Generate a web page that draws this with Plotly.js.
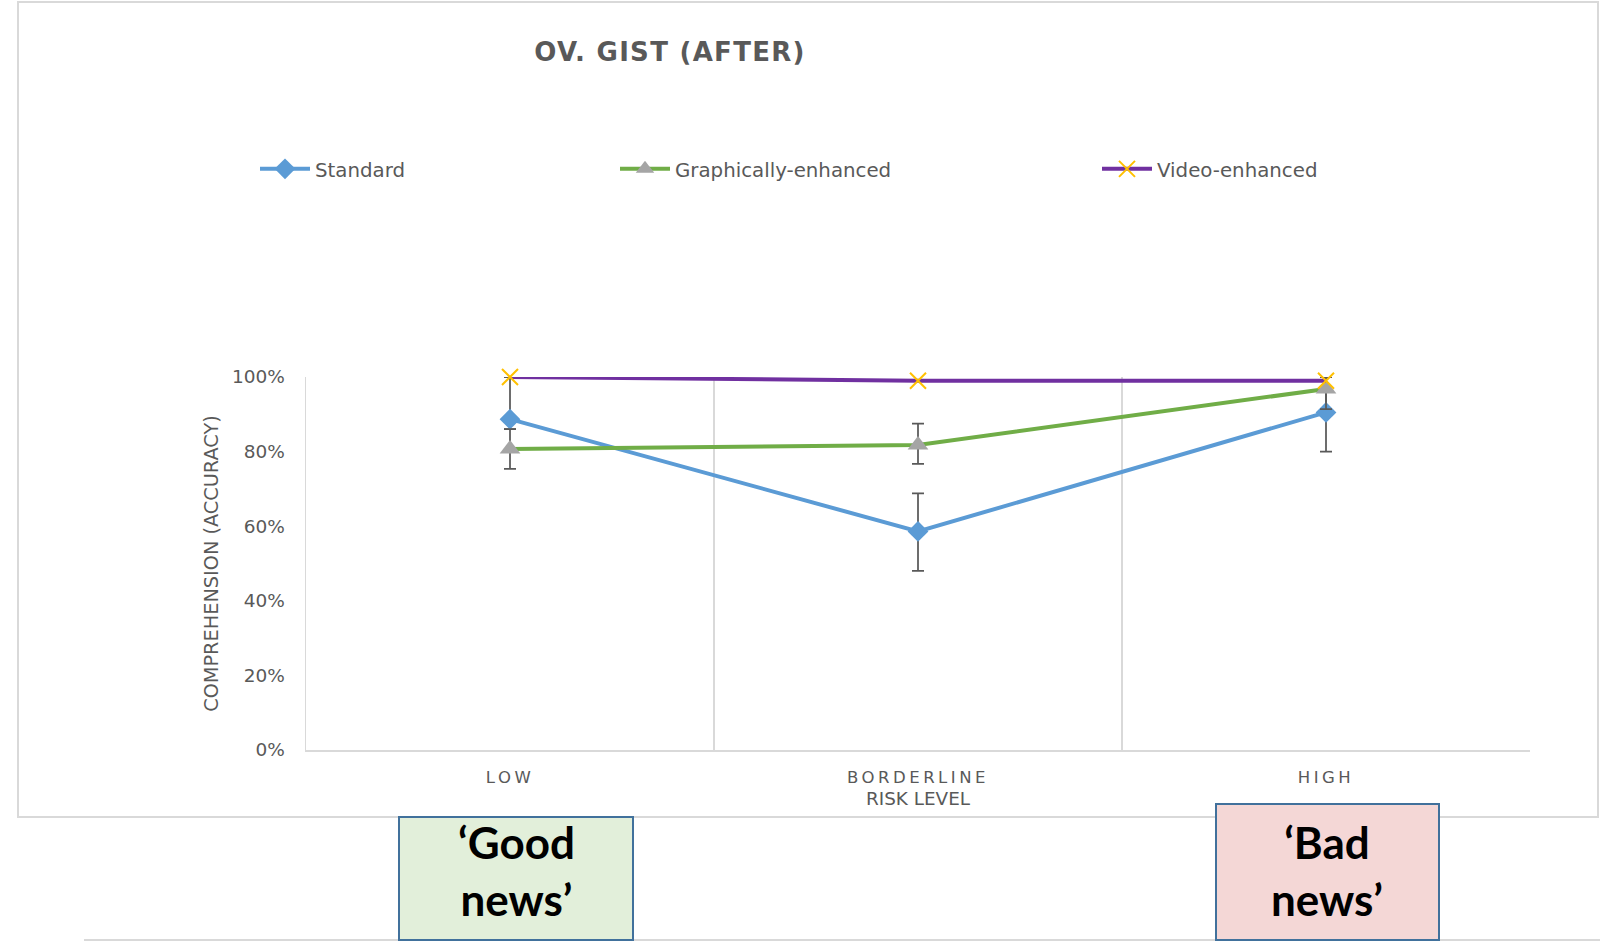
<!DOCTYPE html>
<html>
<head>
<meta charset="utf-8">
<script src="https://cdn.plot.ly/plotly-3.0.1.min.js"></script>
<style>
  html, body { margin: 0; padding: 0; background: #ffffff; }
  #chart { width: 1600px; height: 943px; }
  .xtick text { letter-spacing: 3.5px; }
  .gtitle { letter-spacing: 1.3px; }
</style>
</head>
<body>
<div id="chart"></div>
<script>
// ---- data ----
const categories = ['LOW', 'BORDERLINE', 'HIGH'];
const seriesNames = ['Standard', 'Graphically-enhanced', 'Video-enhanced'];

const standardValues = [0.887, 0.586, 0.905];
const standardErrUp = [0.113, 0.102, 0.095];
const standardErrDown = [0.027, 0.106, 0.105];

const graphicalValues = [0.807, 0.818, 0.968];
const graphicalErrUp = [0.053, 0.057, 0.032];
const graphicalErrDown = [0.053, 0.051, 0.054];

const videoValues = [1.0, 0.99, 0.99];

const yTickVals = [0, 0.2, 0.4, 0.6, 0.8, 1.0];

const titleText = 'OV. GIST (AFTER)';
const yTitleText = 'COMPREHENSION (ACCURACY)';
const xTitleText = 'RISK LEVEL';
const goodNewsText = '\u2018Good<br>news\u2019';
const badNewsText = '\u2018Bad<br>news\u2019';

// ---- layout helpers (pixel -> paper) ----
const W = 1600, H = 943;
const M = { l: 306, r: 70, t: 377, b: 193 };
const PW = W - M.l - M.r, PH = H - M.t - M.b;
const px = X => (X - M.l) / PW;
const py = Y => (H - M.b - Y) / PH;

const FONT = '"DejaVu Sans", Verdana, sans-serif';
const GREY_TXT = '#595959';
const GRID = '#D9D9D9';

const errStyle = { color: '#595959', thickness: 1.75, width: 6 };

const traces = [
  {
    x: categories, y: standardValues, name: seriesNames[0],
    type: 'scatter', mode: 'lines+markers', legend: 'legend',
    line: { color: '#5B9BD5', width: 4 },
    marker: { symbol: 'diamond', size: 16, color: '#5B9BD5' },
    error_y: Object.assign({ type: 'data', symmetric: false, array: standardErrUp, arrayminus: standardErrDown, visible: true }, errStyle),
    cliponaxis: false
  },
  {
    x: categories, y: graphicalValues, name: seriesNames[1],
    type: 'scatter', mode: 'lines+markers', legend: 'legend2',
    line: { color: '#70AD47', width: 4 },
    marker: { symbol: 'triangle-up', size: 18, color: '#A5A5A5' },
    error_y: Object.assign({ type: 'data', symmetric: false, array: graphicalErrUp, arrayminus: graphicalErrDown, visible: true }, errStyle),
    cliponaxis: false
  },
  {
    x: categories, y: videoValues, name: seriesNames[2],
    type: 'scatter', mode: 'lines+markers', legend: 'legend3',
    line: { color: '#7030A0', width: 4 },
    marker: { symbol: 'x-thin', size: 16, color: '#FFC000', line: { color: '#FFC000', width: 2 } },
    cliponaxis: false
  }
];

const legendBase = {
  orientation: 'h', yanchor: 'middle', xanchor: 'left',
  y: py(169), itemwidth: 50, bgcolor: 'rgba(0,0,0,0)',
  font: { family: FONT, size: 19.8, color: GREY_TXT }
};

const layout = {
  width: W, height: H,
  margin: M,
  paper_bgcolor: '#ffffff', plot_bgcolor: '#ffffff',
  showlegend: true,
  title: {
    text: titleText,
    font: { family: FONT, size: 26, color: GREY_TXT, weight: 'bold' },
    xref: 'container', yref: 'container',
    x: 670 / W, xanchor: 'center', y: 1 - 52 / H, yanchor: 'middle'
  },
  legend: Object.assign({}, legendBase, { x: px(255) }),
  legend2: Object.assign({}, legendBase, { x: px(615) }),
  legend3: Object.assign({}, legendBase, { x: px(1097) }),
  xaxis: {
    type: 'category',
    range: [-0.5, 2.5],
    tickson: 'boundaries',
    showgrid: true, gridcolor: GRID, gridwidth: 1.5,
    showline: true, linecolor: GRID, linewidth: 1.5,
    ticks: '', zeroline: false,
    tickfont: { family: FONT, size: 16.5, color: GREY_TXT },
    ticklabelstandoff: 12,
    title: { text: xTitleText, font: { family: FONT, size: 18.4, color: GREY_TXT }, standoff: 6 },
    fixedrange: true
  },
  yaxis: {
    range: [0, 1],
    tickvals: yTickVals,
    tickformat: '.0%',
    showgrid: false,
    showline: true, linecolor: GRID, linewidth: 1.5,
    ticks: '', zeroline: false,
    tickfont: { family: FONT, size: 18.5, color: GREY_TXT },
    ticklabelstandoff: 16,
    title: { text: yTitleText, font: { family: FONT, size: 19.3, color: GREY_TXT }, standoff: 8 },
    fixedrange: true
  },
  shapes: [
    // outer chart frame
    { type: 'rect', xref: 'paper', yref: 'paper', layer: 'below',
      x0: px(18), x1: px(1598), y0: py(817), y1: py(2),
      line: { color: GRID, width: 2 }, fillcolor: 'rgba(0,0,0,0)' },
    // bottom rule
    { type: 'line', xref: 'paper', yref: 'paper', layer: 'below',
      x0: px(84), x1: px(1600), y0: py(940), y1: py(940),
      line: { color: GRID, width: 2 } },
    // good news box
    { type: 'rect', xref: 'paper', yref: 'paper', layer: 'above',
      x0: px(399), x1: px(633), y0: py(940), y1: py(817),
      line: { color: '#41719C', width: 2 }, fillcolor: '#E2EFDA' },
    // bad news box
    { type: 'rect', xref: 'paper', yref: 'paper', layer: 'above',
      x0: px(1216), x1: px(1439), y0: py(940), y1: py(804),
      line: { color: '#41719C', width: 2 }, fillcolor: '#F4D7D6' }
  ],
  annotations: [
    { xref: 'paper', yref: 'paper', x: px(516), y: py(870), xanchor: 'center', yanchor: 'middle',
      text: goodNewsText, showarrow: false, align: 'center',
      font: { family: 'Lato, "Open Sans", sans-serif', size: 44, color: '#000000', weight: 'bold' } },
    { xref: 'paper', yref: 'paper', x: px(1327), y: py(870), xanchor: 'center', yanchor: 'middle',
      text: badNewsText, showarrow: false, align: 'center',
      font: { family: 'Lato, "Open Sans", sans-serif', size: 44, color: '#000000', weight: 'bold' } }
  ]
};

Plotly.newPlot('chart', traces, layout, { staticPlot: true, displayModeBar: false });
</script>
</body>
</html>
